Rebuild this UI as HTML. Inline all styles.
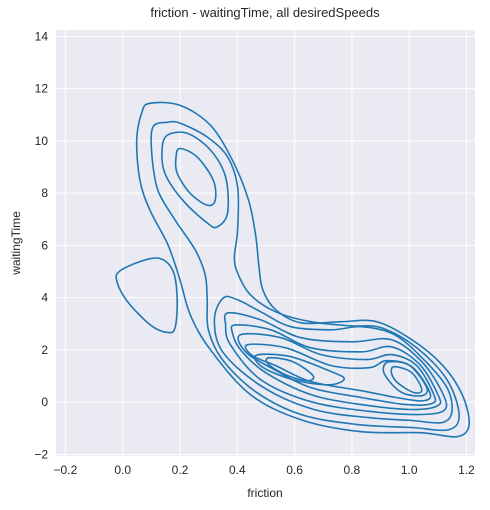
<!DOCTYPE html>
<html><head><meta charset="utf-8"><style>
body{margin:0;background:#fff;}
svg{display:block;font-family:"Liberation Sans",Arial,sans-serif;}
</style></head><body>
<svg id="chart" width="490" height="510" viewBox="0 0 490 510">
<text x="265" y="17" text-anchor="middle" font-size="13" fill="#262626">friction - waitingTime, all desiredSpeeds</text>
<rect x="56" y="30" width="419" height="426" fill="#eaeaf2"/>
<g id="grid"></g>
<g id="xticks"></g>
<g id="yticks"></g>
<g id="contours"></g>
<text x="265" y="497" text-anchor="middle" font-size="12" fill="#262626">friction</text>
<text x="20" y="243" text-anchor="middle" font-size="12" fill="#262626" transform="rotate(-90 20 243)">waitingTime</text>
</svg>
<script>
const xTicks=[-0.2,0.0,0.2,0.4,0.6,0.8,1.0,1.2];
const xTickLabels=["\u22120.2","0.0","0.2","0.4","0.6","0.8","1.0","1.2"];
const yTicks=[-2,0,2,4,6,8,10,12,14];
const yTickLabels=["\u22122","0","2","4","6","8","10","12","14"];
const contourOuterX=[0.095,0.200,0.306,0.383,0.439,0.464,0.475,0.489,0.534,0.622,0.763,0.886,1.009,1.114,1.185,1.209,1.167,1.044,0.833,0.622,0.446,0.306,0.236,0.200,0.158,0.095,0.060,0.049,0.067];
const contourOuterY=[11.44,11.36,10.60,9.26,7.74,6.40,5.25,4.30,3.54,3.04,3.08,3.08,2.39,1.44,0.29,-0.86,-1.32,-1.17,-1.13,-0.67,0.29,2.01,3.34,4.68,6.02,7.35,8.50,10.03,11.10];
const contour2X=[0.105,0.155,0.200,0.295,0.366,0.401,0.401,0.390,0.401,0.446,0.534,0.657,0.798,0.903,1.026,1.132,1.174,1.139,1.009,0.815,0.622,0.464,0.348,0.299,0.295,0.288,0.253,0.183,0.123,0.102];
const contour2Y=[10.52,10.71,10.68,10.15,9.39,8.24,6.59,5.56,4.95,4.11,3.46,3.08,2.92,2.85,2.09,0.86,-0.47,-1.05,-0.97,-0.85,-0.47,0.40,1.63,2.77,3.92,4.87,5.83,6.97,8.11,9.45];
const contour3X=[0.351,0.401,0.482,0.587,0.728,0.833,0.949,1.051,1.132,1.149,1.114,1.009,0.858,0.668,0.492,0.351,0.320];
const contour3Y=[3.99,3.92,3.46,2.89,2.77,2.89,2.58,1.63,0.56,-0.36,-0.78,-0.70,-0.59,-0.28,0.56,1.89,3.15];
const contour4X=[0.369,0.482,0.622,0.798,0.938,1.044,1.114,1.125,1.044,0.868,0.657,0.482,0.376,0.359];
const contour4Y=[3.42,3.15,2.47,2.31,2.39,1.55,0.40,-0.28,-0.47,-0.36,0.02,0.86,2.20,2.96];
const contour5X=[0.394,0.517,0.657,0.833,0.938,1.037,1.100,1.100,1.009,0.833,0.657,0.499,0.411,0.383];
const contour5Y=[2.96,2.77,2.08,1.93,2.12,1.44,0.29,-0.13,-0.28,-0.09,0.29,1.13,2.01,2.66];
const contour6X=[0.411,0.552,0.692,0.851,0.938,1.026,1.086,1.079,0.991,0.833,0.657,0.517,0.429];
const contour6Y=[2.58,2.47,1.82,1.63,1.82,1.40,0.29,-0.05,-0.09,0.18,0.56,1.32,1.93];
const contour7X=[0.436,0.569,0.728,0.861,0.921,1.009,1.072,1.054,0.974,0.833,0.657,0.534,0.453];
const contour7Y=[2.20,2.08,1.40,1.32,1.59,1.36,0.37,0.06,0.14,0.44,0.79,1.40,1.78];
const leftPeak1X=[0.475,0.587,0.728,0.773,0.728,0.622,0.517,0.467];
const leftPeak1Y=[1.82,1.74,1.17,0.90,0.67,0.79,1.17,1.55];
const leftPeak2X=[0.510,0.594,0.664,0.643,0.569,0.510];
const leftPeak2Y=[1.70,1.55,1.02,0.82,1.05,1.44];
const rightPeak1X=[0.931,1.002,1.061,1.044,0.974,0.921,0.910];
const rightPeak1Y=[1.55,1.40,0.56,0.25,0.37,0.94,1.32];
const rightPeak2X=[0.949,1.009,1.044,1.016,0.959,0.938];
const rightPeak2Y=[1.36,1.13,0.48,0.37,0.75,1.13];
const upperPeak1X=[0.155,0.225,0.306,0.359,0.366,0.330,0.295,0.211,0.148,0.137];
const upperPeak1Y=[10.21,10.29,9.65,8.62,7.25,6.71,6.86,7.71,8.74,9.62];
const upperPeak2X=[0.200,0.260,0.316,0.323,0.295,0.235,0.190,0.186];
const upperPeak2Y=[9.71,9.38,8.50,7.73,7.54,8.00,8.77,9.38];
const leftBlobX=[-0.011,0.060,0.130,0.176,0.190,0.183,0.155,0.095,0.014,-0.021];
const leftBlobY=[5.01,5.38,5.50,5.01,3.99,2.85,2.67,2.97,3.89,4.65];

const NS="http://www.w3.org/2000/svg";
const plot={x0:56,x1:475,y0:30,y1:456};
function sx(v){return 122.7+286.5*v;}
function sy(v){return 402.2-26.13*v;}

const grid=document.getElementById('grid');
const xt=document.getElementById('xticks');
const yt=document.getElementById('yticks');
xTicks.forEach((v,i)=>{
  const l=document.createElementNS(NS,'line');
  l.setAttribute('x1',sx(v));l.setAttribute('x2',sx(v));
  l.setAttribute('y1',plot.y0);l.setAttribute('y2',plot.y1);
  l.setAttribute('stroke','#fff');l.setAttribute('stroke-width','1');
  
  
  grid.appendChild(l);
  const t=document.createElementNS(NS,'text');
  t.setAttribute('x',sx(v));t.setAttribute('y',plot.y1+18);
  t.setAttribute('text-anchor','middle');t.setAttribute('font-size','12');t.setAttribute('fill','#262626');
  t.textContent=xTickLabels[i];
  
  
  xt.appendChild(t);
});
yTicks.forEach((v,i)=>{
  const l=document.createElementNS(NS,'line');
  l.setAttribute('x1',plot.x0);l.setAttribute('x2',plot.x1);
  l.setAttribute('y1',sy(v));l.setAttribute('y2',sy(v));
  l.setAttribute('stroke','#fff');l.setAttribute('stroke-width','1');
  
  
  grid.appendChild(l);
  const t=document.createElementNS(NS,'text');
  t.setAttribute('x',plot.x0-8);t.setAttribute('y',sy(v)+4);
  t.setAttribute('text-anchor','end');t.setAttribute('font-size','12');t.setAttribute('fill','#262626');
  t.textContent=yTickLabels[i];
  
  
  yt.appendChild(t);
});

function closedPath(xs,ys){
  const p=xs.map((x,i)=>[sx(x),sy(ys[i])]);
  const n=p.length;
  let d=`M${p[0][0].toFixed(1)},${p[0][1].toFixed(1)}`;
  for(let i=0;i<n;i++){
    const p0=p[(i-1+n)%n],p1=p[i],p2=p[(i+1)%n],p3=p[(i+2)%n];
    const c1=[p1[0]+(p2[0]-p0[0])/6,p1[1]+(p2[1]-p0[1])/6];
    const c2=[p2[0]-(p3[0]-p1[0])/6,p2[1]-(p3[1]-p1[1])/6];
    d+=`C${c1[0].toFixed(1)},${c1[1].toFixed(1)} ${c2[0].toFixed(1)},${c2[1].toFixed(1)} ${p2[0].toFixed(1)},${p2[1].toFixed(1)}`;
  }
  return d+'Z';
}
const cg=document.getElementById('contours');
const sets=[[contourOuterX,contourOuterY],[contour2X,contour2Y],[contour3X,contour3Y],[contour4X,contour4Y],[contour5X,contour5Y],[contour6X,contour6Y],[contour7X,contour7Y],[leftPeak1X,leftPeak1Y],[leftPeak2X,leftPeak2Y],[rightPeak1X,rightPeak1Y],[rightPeak2X,rightPeak2Y],[upperPeak1X,upperPeak1Y],[upperPeak2X,upperPeak2Y],[leftBlobX,leftBlobY]];
sets.forEach(s=>{
  const path=document.createElementNS(NS,'path');
  path.setAttribute('d',closedPath(s[0],s[1]));
  path.setAttribute('fill','none');path.setAttribute('stroke','#1f77b4');path.setAttribute('stroke-width','1.6');
  
  
  cg.appendChild(path);
});
</script>
</body></html>
